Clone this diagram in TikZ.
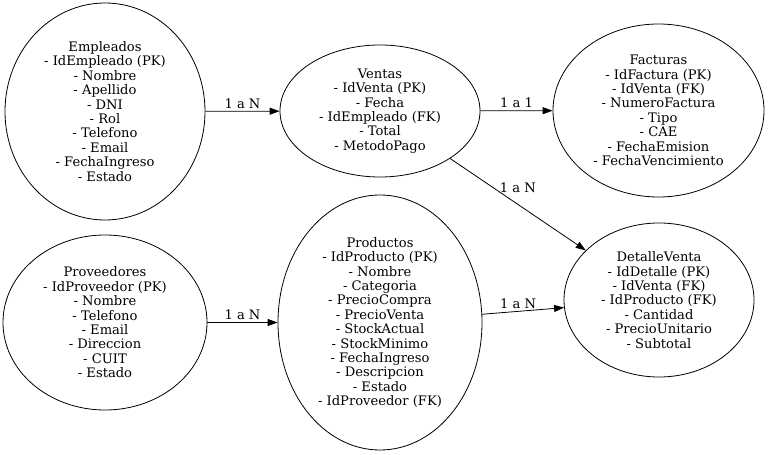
\documentclass[tikz,border=0pt]{standalone}
\usepackage{fontspec}
\setmainfont{DejaVu Serif}
\usetikzlibrary{shapes.geometric,arrows.meta}
\begin{document}
\begin{tikzpicture}[x=1bp,y=-1bp,
  entity/.style={draw, ellipse, line width=0.8bp, inner sep=0pt},
  txt/.style={align=center, inner sep=0pt, font=\fontsize{13.1bp}{14.4bp}\selectfont},
  lab/.style={inner sep=0pt, font=\fontsize{13.1bp}{14.4bp}\selectfont},
  rel/.style={-{Triangle[length=10bp,width=7bp]}, line width=0.8bp}]
\useasboundingbox (0,0) rectangle (768,455);

\node[entity, minimum width=200bp, minimum height=217bp] (emp) at (105,111.5) {};
\node[txt] at (emp.center) {Empleados\\- IdEmpleado (PK)\\- Nombre\\- Apellido\\- DNI\\- Rol\\- Telefono\\- Email\\- FechaIngreso\\- Estado};

\node[entity, minimum width=200bp, minimum height=132bp] (ven) at (380,111) {};
\node[txt] at (ven.center) {Ventas\\- IdVenta (PK)\\- Fecha\\- IdEmpleado (FK)\\- Total\\- MetodoPago};

\node[entity, minimum width=211bp, minimum height=173bp] (fac) at (658.5,110.5) {};
\node[txt] at (fac.center) {Facturas\\- IdFactura (PK)\\- IdVenta (FK)\\- NumeroFactura\\- Tipo\\- CAE\\- FechaEmision\\- FechaVencimiento};

\node[entity, minimum width=204bp, minimum height=175bp] (prov) at (105,322.5) {};
\node[txt] at (prov.center) {Proveedores\\- IdProveedor (PK)\\- Nombre\\- Telefono\\- Email\\- Direccion\\- CUIT\\- Estado};

\node[entity, minimum width=204bp, minimum height=255bp] (prod) at (380,322.5) {};
\node[txt] at (prod.center) {Productos\\- IdProducto (PK)\\- Nombre\\- Categoria\\- PrecioCompra\\- PrecioVenta\\- StockActual\\- StockMinimo\\- FechaIngreso\\- Descripcion\\- Estado\\- IdProveedor (FK)};

\node[entity, minimum width=190bp, minimum height=154bp] (det) at (659,300) {};
\node[txt] at (det.center) {DetalleVenta\\- IdDetalle (PK)\\- IdVenta (FK)\\- IdProducto (FK)\\- Cantidad\\- PrecioUnitario\\- Subtotal};

\draw[rel] (emp) -- (ven) node[lab, midway, yshift=8bp] {1 a N};
\draw[rel] (ven) -- (fac) node[lab, midway, yshift=8bp] {1 a 1};
\draw[rel] (ven) -- (det) node[lab, midway, yshift=17bp] {1 a N};
\draw[rel] (prov) -- (prod) node[lab, midway, yshift=8bp] {1 a N};
\draw[rel] (prod) -- (det) node[lab, midway, xshift=-5bp, yshift=7.5bp] {1 a N};
\end{tikzpicture}
\end{document}
